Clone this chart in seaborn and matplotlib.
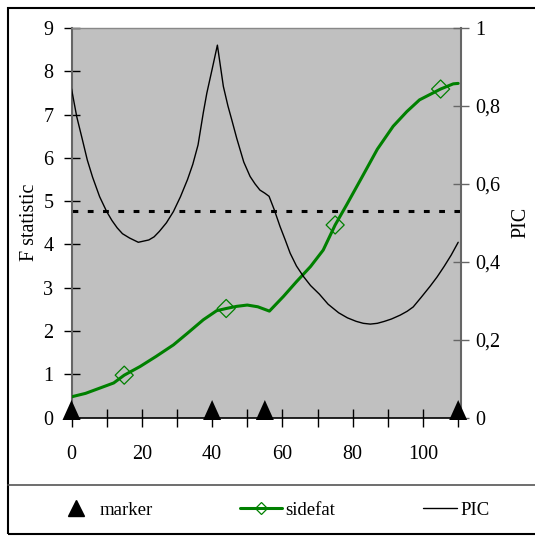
import matplotlib
matplotlib.use("Agg")
import matplotlib.pyplot as plt
import seaborn as sns
from matplotlib.path import Path
from matplotlib.markers import MarkerStyle
from matplotlib.lines import Line2D
from matplotlib.patches import Rectangle

# PIC curve (right axis, 0-1)
pic_pos = [0, 1.5, 3, 4.5, 6, 8, 10, 11.5, 13, 14.5, 16.5, 19, 22, 23.5, 25, 27,
           29, 31, 33, 34.5, 36, 37.5, 38.5, 40, 41.5, 42.3, 43.2, 44.5, 45.6,
           47, 49, 50.8, 52.2, 53.6, 55, 56.2, 57.7, 59.3, 60.8, 62.2, 64, 66,
           68, 70.5, 73, 76, 78.5, 81, 83, 85, 87, 89, 91, 93.5, 95.5, 97.2,
           99.5, 102, 104, 106, 108, 110]
pic_val = [0.844, 0.772, 0.717, 0.661, 0.617, 0.567, 0.529, 0.506, 0.487, 0.472,
           0.461, 0.450, 0.456, 0.464, 0.478, 0.500, 0.529, 0.567, 0.611, 0.650,
           0.700, 0.783, 0.833, 0.894, 0.956, 0.906, 0.850, 0.800, 0.764, 0.717,
           0.656, 0.619, 0.600, 0.584, 0.576, 0.568, 0.533, 0.491, 0.456, 0.422,
           0.389, 0.362, 0.339, 0.317, 0.291, 0.269, 0.256, 0.247, 0.242, 0.240,
           0.242, 0.247, 0.253, 0.263, 0.273, 0.284, 0.309, 0.337, 0.361, 0.388,
           0.417, 0.450]

# sidefat F statistic (left axis)
fat_pos = [0, 4, 8, 12, 15, 19.5, 24, 29, 33, 37.5, 41.3, 44, 47, 50, 53, 56.3,
           60.3, 64, 68, 71.6, 75, 78.3, 82.6, 87, 91.5, 95.4, 99, 105, 108.6, 110]
fat_val = [0.48, 0.56, 0.68, 0.80, 0.98, 1.18, 1.41, 1.68, 1.95, 2.26, 2.47, 2.52,
           2.57, 2.60, 2.56, 2.46, 2.80, 3.14, 3.49, 3.87, 4.45, 4.92, 5.55, 6.20,
           6.73, 7.07, 7.34, 7.59, 7.71, 7.72]
diamond_pos = [15, 44, 75, 105]
diamond_val = [0.98, 2.52, 4.45, 7.59]

# marker positions along the axis
marker_pos = [0, 40, 55, 110]
marker_val = [0, 0, 0, 0]

threshold = 4.77

x_ticks = list(range(0, 111, 10))
x_labels = [str(v) if v % 20 == 0 and v <= 100 else "" for v in x_ticks]
f_ticks = list(range(0, 10))
pic_ticks = [0, 0.2, 0.4, 0.6, 0.8, 1.0]
pic_labels = ["0", "0,2", "0,4", "0,6", "0,8", "1"]

GREEN = "#008000"
GRAY_BG = "#C0C0C0"
SPINE_GRAY = "#666666"
FS = 14.5

sns.set_theme(style="ticks")
plt.rcParams["font.family"] = ["Liberation Serif", "DejaVu Serif"]

W, H = 535, 537
fig = plt.figure(figsize=(W / 100, H / 100), dpi=100)
fig.patch.set_facecolor("white")

ax_l, ax_r, ax_t, ax_b = 71.5, 461.0, 28.0, 417.6
ax = fig.add_axes([ax_l / W, (H - ax_b) / H, (ax_r - ax_l) / W, (ax_b - ax_t) / H])
ax.set_facecolor(GRAY_BG)
ax2 = ax.twinx()

# threshold line
ax.axhline(threshold, color="black", lw=2.2, ls=(0, (1.9, 3.1)), zorder=2)

# sidefat line with open diamonds
sns.lineplot(x=fat_pos, y=fat_val, ax=ax, color=GREEN, lw=2.2, legend=False,
             zorder=3)
sns.scatterplot(x=diamond_pos, y=diamond_val, ax=ax, marker="D", s=85,
                facecolor="none", edgecolor=GREEN, linewidth=0.9, zorder=4,
                legend=False)

# PIC curve on the secondary axis
sns.lineplot(x=pic_pos, y=pic_val, ax=ax2, color="black", lw=1.0, legend=False)

# triangle markers sitting on the x axis
tri = Path([(-0.45, -0.12), (0.45, -0.12), (0.0, 0.88), (-0.45, -0.12)],
           [Path.MOVETO, Path.LINETO, Path.LINETO, Path.CLOSEPOLY])
tri_marker = MarkerStyle(tri)
sns.scatterplot(x=marker_pos, y=marker_val, ax=ax2, marker=tri_marker, s=640,
                color="black", edgecolor="none", clip_on=False, zorder=10,
                legend=False)

ax.set_xlim(0, 110.8)
ax.set_ylim(0, 9)
ax2.set_ylim(0, 1)

ax.set_xticks(x_ticks)
ax.set_xticklabels(x_labels)
ax.set_yticks(f_ticks)
ax.set_yticklabels([str(v) for v in f_ticks])
ax2.set_yticks(pic_ticks)
ax2.set_yticklabels(pic_labels)

ax.tick_params(axis="x", direction="inout", length=13, width=1.0, color="black",
               labelsize=FS, labelcolor="black", pad=13)
ax.tick_params(axis="y", direction="inout", length=12, width=1.0, color="black",
               labelsize=FS, labelcolor="black", pad=7)
ax2.tick_params(axis="y", direction="inout", length=12, width=1.0,
                color=SPINE_GRAY, labelsize=FS, labelcolor="black", pad=4.5)

ax.set_xlabel("")
ax.set_ylabel("F statistic", fontsize=FS, color="black", labelpad=3)
ax2.set_ylabel("PIC", fontsize=FS, color="black", labelpad=8, rotation=90)

for name in ["top", "bottom", "left", "right"]:
    ax.spines[name].set_visible(False)
    ax2.spines[name].set_visible(False)
ax.spines["left"].set_visible(True)
ax.spines["left"].set_color(SPINE_GRAY)
ax.spines["left"].set_linewidth(1.5)
ax.spines["top"].set_visible(True)
ax.spines["top"].set_color("#888888")
ax.spines["top"].set_linewidth(1.0)
ax2.spines["bottom"].set_visible(True)
ax2.spines["bottom"].set_color("black")
ax2.spines["bottom"].set_linewidth(1.2)
ax2.spines["right"].set_visible(True)
ax2.spines["right"].set_color(SPINE_GRAY)
ax2.spines["right"].set_linewidth(1.5)

# outer frame and legend strip
fig.patches.append(Rectangle((8 / W, 3 / H), 600 / W, 526 / H,
                             transform=fig.transFigure, fill=False,
                             ec="black", lw=1.5))
fig.lines.append(Line2D([8 / W, 1.0], [(H - 485) / H] * 2,
                        transform=fig.transFigure, color="#555555", lw=1.2))

leg_y = (H - 510) / H
LFS = 13.5
entries = [
    (Line2D([], [], marker="^", ls="none", color="black", ms=11), "marker",
     57, 2.0, 0.25),
    (Line2D([], [], color=GREEN, lw=2.2, marker="D", ms=6.5, mfc="none",
            mec=GREEN, mew=0.9), "sidefat", 240, 2.25, 0.15),
    (Line2D([], [], color="black", lw=1.0), "PIC", 423, 1.8, 0.2),
]
for handle, label, left_px, hl, tp in entries:
    leg = fig.legend([handle], [label], loc="center left",
                     bbox_to_anchor=(left_px / W, leg_y), frameon=False,
                     fontsize=LFS, handlelength=hl, handletextpad=tp,
                     borderpad=0, borderaxespad=0)
    for t in leg.get_texts():
        t.set_color("black")

fig.savefig("out.png", dpi=100)
